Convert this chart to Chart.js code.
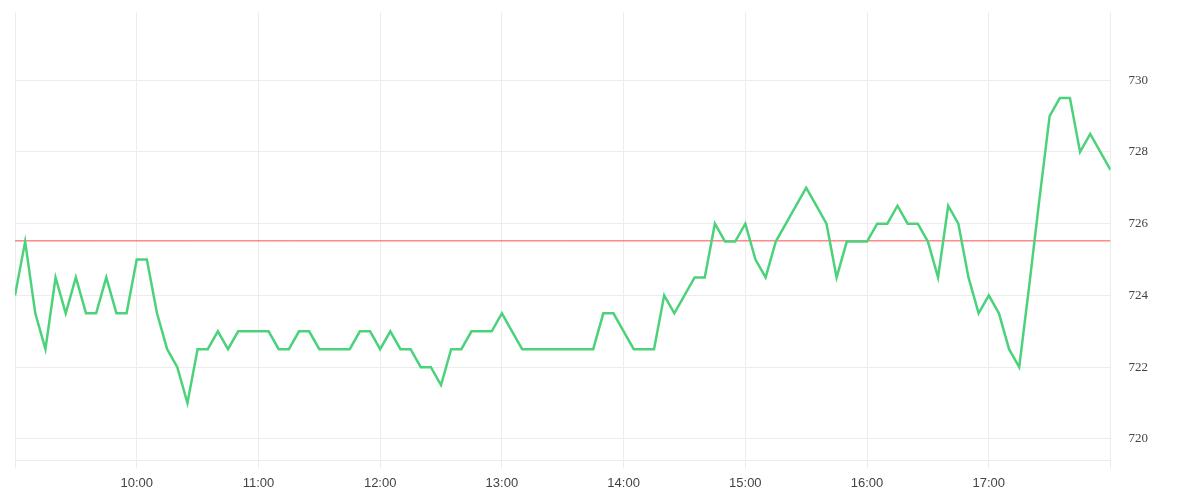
<!DOCTYPE html>
<html lang="en">
<head>
    <meta charset="UTF-8">
    <title>Intraday Price</title>
    <script src="https://cdn.jsdelivr.net/npm/chart.js"></script>
    <style>
        html, body { margin: 0; padding: 0; background: #fff; }
    </style>
</head>
<body>
    <canvas id="priceChart" width="1200" height="500"></canvas>

    <script>
        // 5-minute bars, 09:00 - 18:00
        const times = [
            '09:00','09:05','09:10','09:15','09:20','09:25','09:30','09:35','09:40','09:45','09:50','09:55',
            '10:00','10:05','10:10','10:15','10:20','10:25','10:30','10:35','10:40','10:45','10:50','10:55',
            '11:00','11:05','11:10','11:15','11:20','11:25','11:30','11:35','11:40','11:45','11:50','11:55',
            '12:00','12:05','12:10','12:15','12:20','12:25','12:30','12:35','12:40','12:45','12:50','12:55',
            '13:00','13:05','13:10','13:15','13:20','13:25','13:30','13:35','13:40','13:45','13:50','13:55',
            '14:00','14:05','14:10','14:15','14:20','14:25','14:30','14:35','14:40','14:45','14:50','14:55',
            '15:00','15:05','15:10','15:15','15:20','15:25','15:30','15:35','15:40','15:45','15:50','15:55',
            '16:00','16:05','16:10','16:15','16:20','16:25','16:30','16:35','16:40','16:45','16:50','16:55',
            '17:00','17:05','17:10','17:15','17:20','17:25','17:30','17:35','17:40','17:45','17:50','17:55',
            '18:00'
        ];

        const prices = [
            724.0, 725.5, 723.5, 722.5, 724.5, 723.5, 724.5, 723.5, 723.5, 724.5, 723.5, 723.5,
            725.0, 725.0, 723.5, 722.5, 722.0, 721.0, 722.5, 722.5, 723.0, 722.5, 723.0, 723.0,
            723.0, 723.0, 722.5, 722.5, 723.0, 723.0, 722.5, 722.5, 722.5, 722.5, 723.0, 723.0,
            722.5, 723.0, 722.5, 722.5, 722.0, 722.0, 721.5, 722.5, 722.5, 723.0, 723.0, 723.0,
            723.5, 723.0, 722.5, 722.5, 722.5, 722.5, 722.5, 722.5, 722.5, 722.5, 723.5, 723.5,
            723.0, 722.5, 722.5, 722.5, 724.0, 723.5, 724.0, 724.5, 724.5, 726.0, 725.5, 725.5,
            726.0, 725.0, 724.5, 725.5, 726.0, 726.5, 727.0, 726.5, 726.0, 724.5, 725.5, 725.5,
            725.5, 726.0, 726.0, 726.5, 726.0, 726.0, 725.5, 724.5, 726.5, 726.0, 724.5, 723.5,
            724.0, 723.5, 722.5, 722.0, 724.3, 726.7, 729.0, 729.5, 729.5, 728.0, 728.5, 728.0,
            727.5
        ];

        const hourLabels = ['10:00', '11:00', '12:00', '13:00', '14:00', '15:00', '16:00', '17:00'];
        const refPrice = 725.52;

        function toMin(t) {
            const [h, m] = t.split(':').map(Number);
            return h * 60 + m;
        }
        function fmt(min) {
            const h = Math.floor(min / 60), m = min % 60;
            return String(h).padStart(2, '0') + ':' + String(m).padStart(2, '0');
        }

        const first = toMin(times[0]);
        const last = toMin(times[times.length - 1]);
        const gridColor = '#ececec';

        const ctx = document.getElementById('priceChart').getContext('2d');
        new Chart(ctx, {
            type: 'line',
            data: {
                datasets: [{
                    label: 'Price',
                    data: times.map((t, i) => ({ x: toMin(t), y: prices[i] })),
                    borderColor: '#4cd27b',
                    borderWidth: 2.5,
                    pointRadius: 0,
                    tension: 0
                }, {
                    label: 'Ref',
                    data: [{ x: first, y: refPrice }, { x: last, y: refPrice }],
                    borderColor: '#ff4d4d',
                    borderWidth: 1,
                    pointRadius: 0
                }]
            },
            options: {
                responsive: false,
                animation: false,
                layout: {
                    autoPadding: false,
                    padding: { left: 15, top: 12, right: 49, bottom: 2 }
                },
                plugins: {
                    legend: { display: false },
                    tooltip: { enabled: false }
                },
                scales: {
                    x: {
                        type: 'linear',
                        min: first,
                        max: last,
                        grid: { color: gridColor, tickLength: 8 },
                        border: { color: gridColor },
                        ticks: {
                            stepSize: 60,
                            autoSkip: false,
                            maxRotation: 0,
                            padding: 7,
                            color: '#444',
                            font: { family: 'Liberation Sans', size: 13 },
                            callback: v => hourLabels.includes(fmt(v)) ? fmt(v) : ''
                        }
                    },
                    y: {
                        position: 'right',
                        min: 719.4,
                        max: 731.9,
                        grid: { color: gridColor, tickLength: 15, tickColor: 'rgba(0,0,0,0)' },
                        border: { display: false },
                        ticks: {
                            stepSize: 2,
                            includeBounds: false,
                            padding: 3,
                            color: '#444',
                            font: { family: 'Liberation Serif', size: 13 }
                        }
                    }
                }
            }
        });
    </script>
</body>
</html>
